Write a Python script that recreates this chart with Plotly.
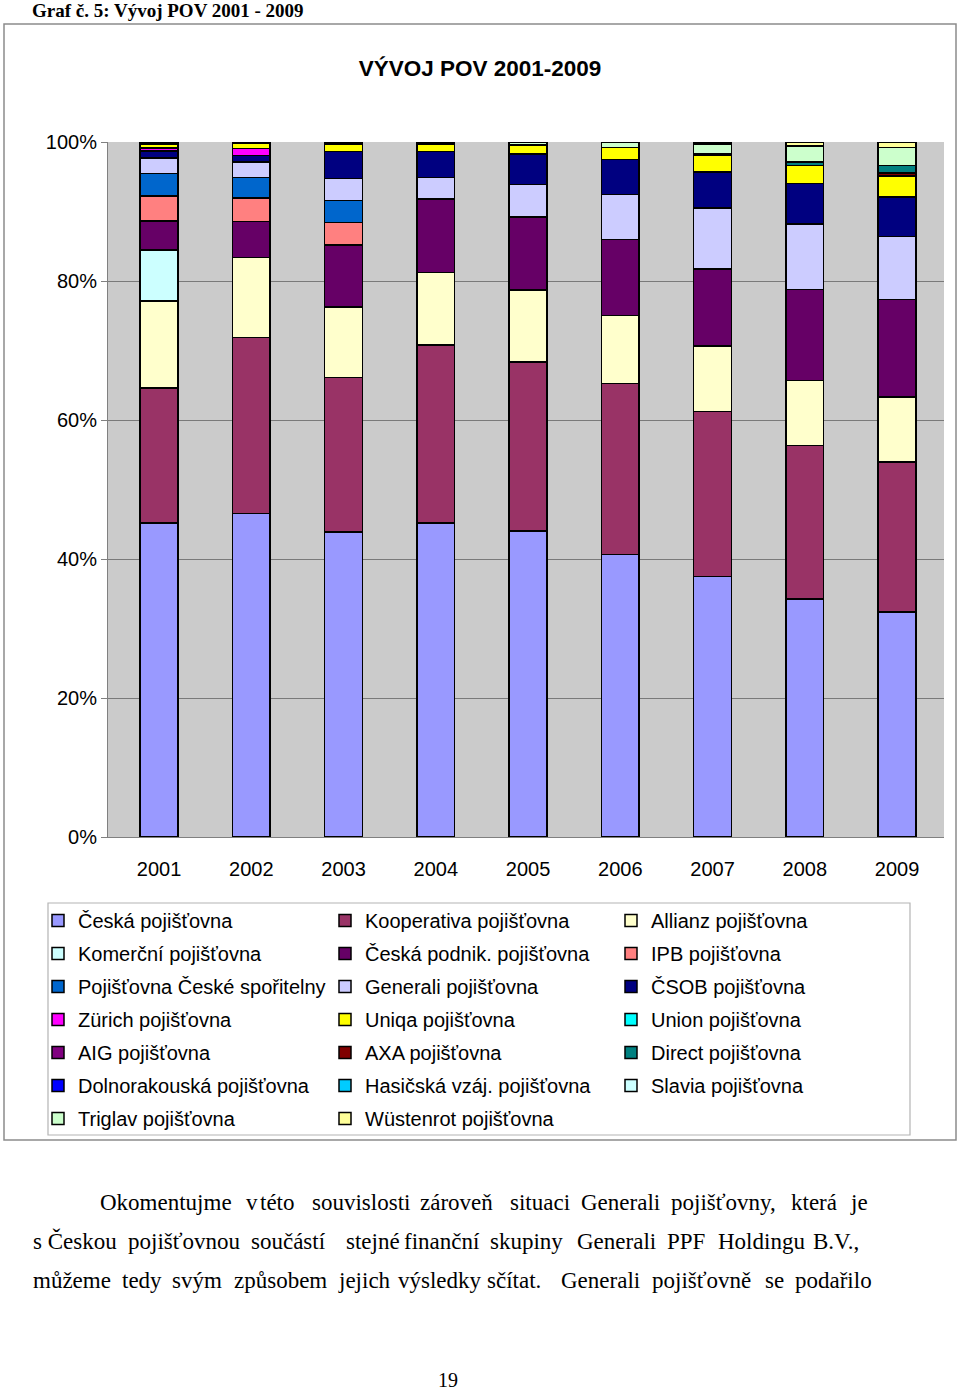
import plotly.graph_objects as go

years = ["2001", "2002", "2003", "2004", "2005", "2006", "2007", "2008", "2009"]

# series in stacking order (bottom -> top); None = not present
ceska = [45.2, 46.5, 43.9, 45.2, 44.0, 40.6, 37.4, 34.2, 32.4]
kooperativa = [19.4, 25.3, 22.2, 25.6, 24.3, 24.6, 23.7, 22.0, 21.6]
allianz = [12.5, 11.55, 10.2, 10.4, 10.4, 9.8, 9.35, 9.35, 9.35]
komercni = [7.34, None, None, None, None, None, None, None, None]
ceska_podnik = [4.17, 5.18, 8.9, 10.6, 10.5, 10.9, 11.1, 13.1, 14.0]
ipb = [3.6, 3.37, 3.27, None, None, None, None, None, None]
poj_cs = [3.27, 2.96, 3.1, None, None, None, None, None, None]
generali = [2.24, 2.22, 3.2, 3.07, 4.65, 6.5, 8.78, 9.35, 9.1]
csob = [0.96, 0.95, 3.9, 3.74, 4.4, 5.0, 5.1, 5.86, 5.66]
zurich = [0.47, 0.96, None, None, None, None, None, None, None]
uniqa = [0.49, 0.72, 1.05, 1.1, 1.25, 1.77, 2.5, 2.6, 3.07]
union = [None, None, 0.3, None, None, None, None, None, None]
aig = [0.2, 0.1, None, None, None, None, None, None, None]
axa = [None, None, None, 0.3, None, None, None, None, 0.4]
direct = [None, None, None, None, None, None, 0.2, 0.5, 1.1]
dolnorakouska = [0.16, 0.14, None, None, None, None, None, None, None]
hasicska = [None, None, None, None, None, None, None, None, None]
slavia = [None, None, None, None, None, None, None, None, None]
triglav = [None, None, None, None, 0.45, 0.78, 1.34, 2.24, 2.6]
wustenrot = [None, None, None, None, None, None, 0.3, 0.6, 0.78]

series = [
    ("Česká pojišťovna", ceska, "#9999FF", "legend"),
    ("Kooperativa pojišťovna", kooperativa, "#993366", "legend2"),
    ("Allianz pojišťovna", allianz, "#FFFFCC", "legend3"),
    ("Komerční pojišťovna", komercni, "#CCFFFF", "legend"),
    ("Česká podnik. pojišťovna", ceska_podnik, "#660066", "legend2"),
    ("IPB pojišťovna", ipb, "#FF8080", "legend3"),
    ("Pojišťovna České spořitelny", poj_cs, "#0066CC", "legend"),
    ("Generali pojišťovna", generali, "#CCCCFF", "legend2"),
    ("ČSOB pojišťovna", csob, "#000080", "legend3"),
    ("Zürich pojišťovna", zurich, "#FF00FF", "legend"),
    ("Uniqa pojišťovna", uniqa, "#FFFF00", "legend2"),
    ("Union pojišťovna", union, "#00FFFF", "legend3"),
    ("AIG pojišťovna", aig, "#800080", "legend"),
    ("AXA pojišťovna", axa, "#800000", "legend2"),
    ("Direct pojišťovna", direct, "#008080", "legend3"),
    ("Dolnorakouská pojišťovna", dolnorakouska, "#0000FF", "legend"),
    ("Hasičská vzáj. pojišťovna", hasicska, "#00CCFF", "legend2"),
    ("Slavia pojišťovna", slavia, "#CCFFFF", "legend3"),
    ("Triglav pojišťovna", triglav, "#CCFFCC", "legend"),
    ("Wüstenrot pojišťovna", wustenrot, "#FFFF99", "legend2"),
]

y_ticks = [0, 20, 40, 60, 80, 100]
y_ticklabels = ["0%", "20%", "40%", "60%", "80%", "100%"]

header_text = "Graf č. 5: Vývoj POV 2001 - 2009"
title_text = "VÝVOJ POV 2001-2009"

para_lines = [
    ["Okomentujme", "v", "této", "souvislosti", "zároveň", "situaci", "Generali", "pojišťovny,", "která", "je"],
    ["s Českou", "pojišťovnou", "součástí", "stejné", "finanční", "skupiny", "Generali", "PPF", "Holdingu", "B.V.,"],
    ["můžeme", "tedy", "svým", "způsobem", "jejich", "výsledky", "sčítat.", "Generali", "pojišťovně", "se", "podařilo"],
]
para_starts = [
    [98, 244, 258, 310, 418, 508, 579, 669, 789, 848],
    [31, 126, 249, 344, 402, 488, 575, 665, 716, 811],
    [31, 120, 170, 232, 336, 396, 485, 559, 650, 763, 793],
]
para_y = [1202, 1241, 1280]
page_number = "19"

W, H = 960, 1391
L, R, T, B = 108, 944, 142, 837


def px(x):
    return (x - L) / (R - L)


def py(y):
    return (B - y) / (B - T)


fig = go.Figure()
for i, (name, vals, col, lg) in enumerate(series):
    fig.add_trace(go.Bar(
        x=years, y=vals, name=name, legend=lg, legendgroup=name,
        marker=dict(color=col, line=dict(color="black", width=1.5)),
        hoverinfo="skip",
    ))

legend_common = dict(
    orientation="v", traceorder="grouped", tracegroupgap=4,
    font=dict(family="Liberation Sans, Arial", size=20, color="black"),
    bgcolor="rgba(0,0,0,0)", borderwidth=0,
    xanchor="left", yanchor="top", itemclick=False, itemdoubleclick=False,
)
leg_top = py(901)

shapes = [
    dict(type="rect", xref="paper", yref="paper", x0=px(4), x1=px(956), y0=py(1140), y1=py(24),
         line=dict(color="#8C8C8C", width=1.5), fillcolor="rgba(0,0,0,0)", layer="below"),
    dict(type="rect", xref="paper", yref="paper", x0=px(48), x1=px(910), y0=py(1135), y1=py(903),
         line=dict(color="#B4B4B4", width=1.2), fillcolor="rgba(0,0,0,0)", layer="below"),
]

annotations = [
    dict(text=f"<b>{header_text}</b>", xref="paper", yref="paper", x=px(30), y=py(10),
         xanchor="left", yanchor="middle", showarrow=False,
         font=dict(family="Liberation Serif, Times New Roman", size=19, color="black")),
    dict(text=page_number, xref="paper", yref="paper", x=px(448), y=py(1380),
         xanchor="center", yanchor="middle", showarrow=False,
         font=dict(family="Liberation Serif, Times New Roman", size=20, color="black")),
]
for words, starts, yy in zip(para_lines, para_starts, para_y):
    for w, s in zip(words, starts):
        annotations.append(dict(
            text=w, xref="paper", yref="paper", x=px(s), y=py(yy), xanchor="left", yanchor="middle",
            showarrow=False, font=dict(family="Liberation Serif, Times New Roman", size=23, color="black")))

fig.update_layout(
    width=W, height=H,
    margin=dict(l=L, r=W - R, t=T, b=H - B, pad=0, autoexpand=False),
    paper_bgcolor="white", plot_bgcolor="#CBCBCB",
    barmode="stack", barnorm="percent", bargap=0.59,
    title=dict(text=f"<b>{title_text}</b>", x=0.5, xref="container", xanchor="center",
               y=1 - 68 / H, yref="container", yanchor="middle",
               font=dict(family="Liberation Sans, Arial", size=22.5, color="black")),
    font=dict(family="Liberation Sans, Arial", size=20, color="black"),
    xaxis=dict(range=[-0.553, 8.509], showgrid=False, showline=True, linecolor="#808080", linewidth=1,
               ticks="", tickfont=dict(size=20), ticklabelstandoff=14, fixedrange=True),
    yaxis=dict(range=[0, 100], tickmode="array", tickvals=y_ticks, ticktext=y_ticklabels,
               showgrid=True, gridcolor="#7A7A7A", gridwidth=1, showline=True,
               linecolor="#808080", linewidth=1,
               ticks="outside", ticklen=6, tickcolor="#808080", tickfont=dict(size=20),
               zeroline=False, fixedrange=True),
    legend=dict(x=px(38), y=leg_top, **legend_common),
    legend2=dict(x=px(325), y=leg_top, **legend_common),
    legend3=dict(x=px(611), y=leg_top, **legend_common),
    shapes=shapes, annotations=annotations,
    showlegend=True,
)

fig.write_html("out.html", config={"displayModeBar": False},
               post_script="document.body.style.margin='0';document.body.style.padding='0';")
